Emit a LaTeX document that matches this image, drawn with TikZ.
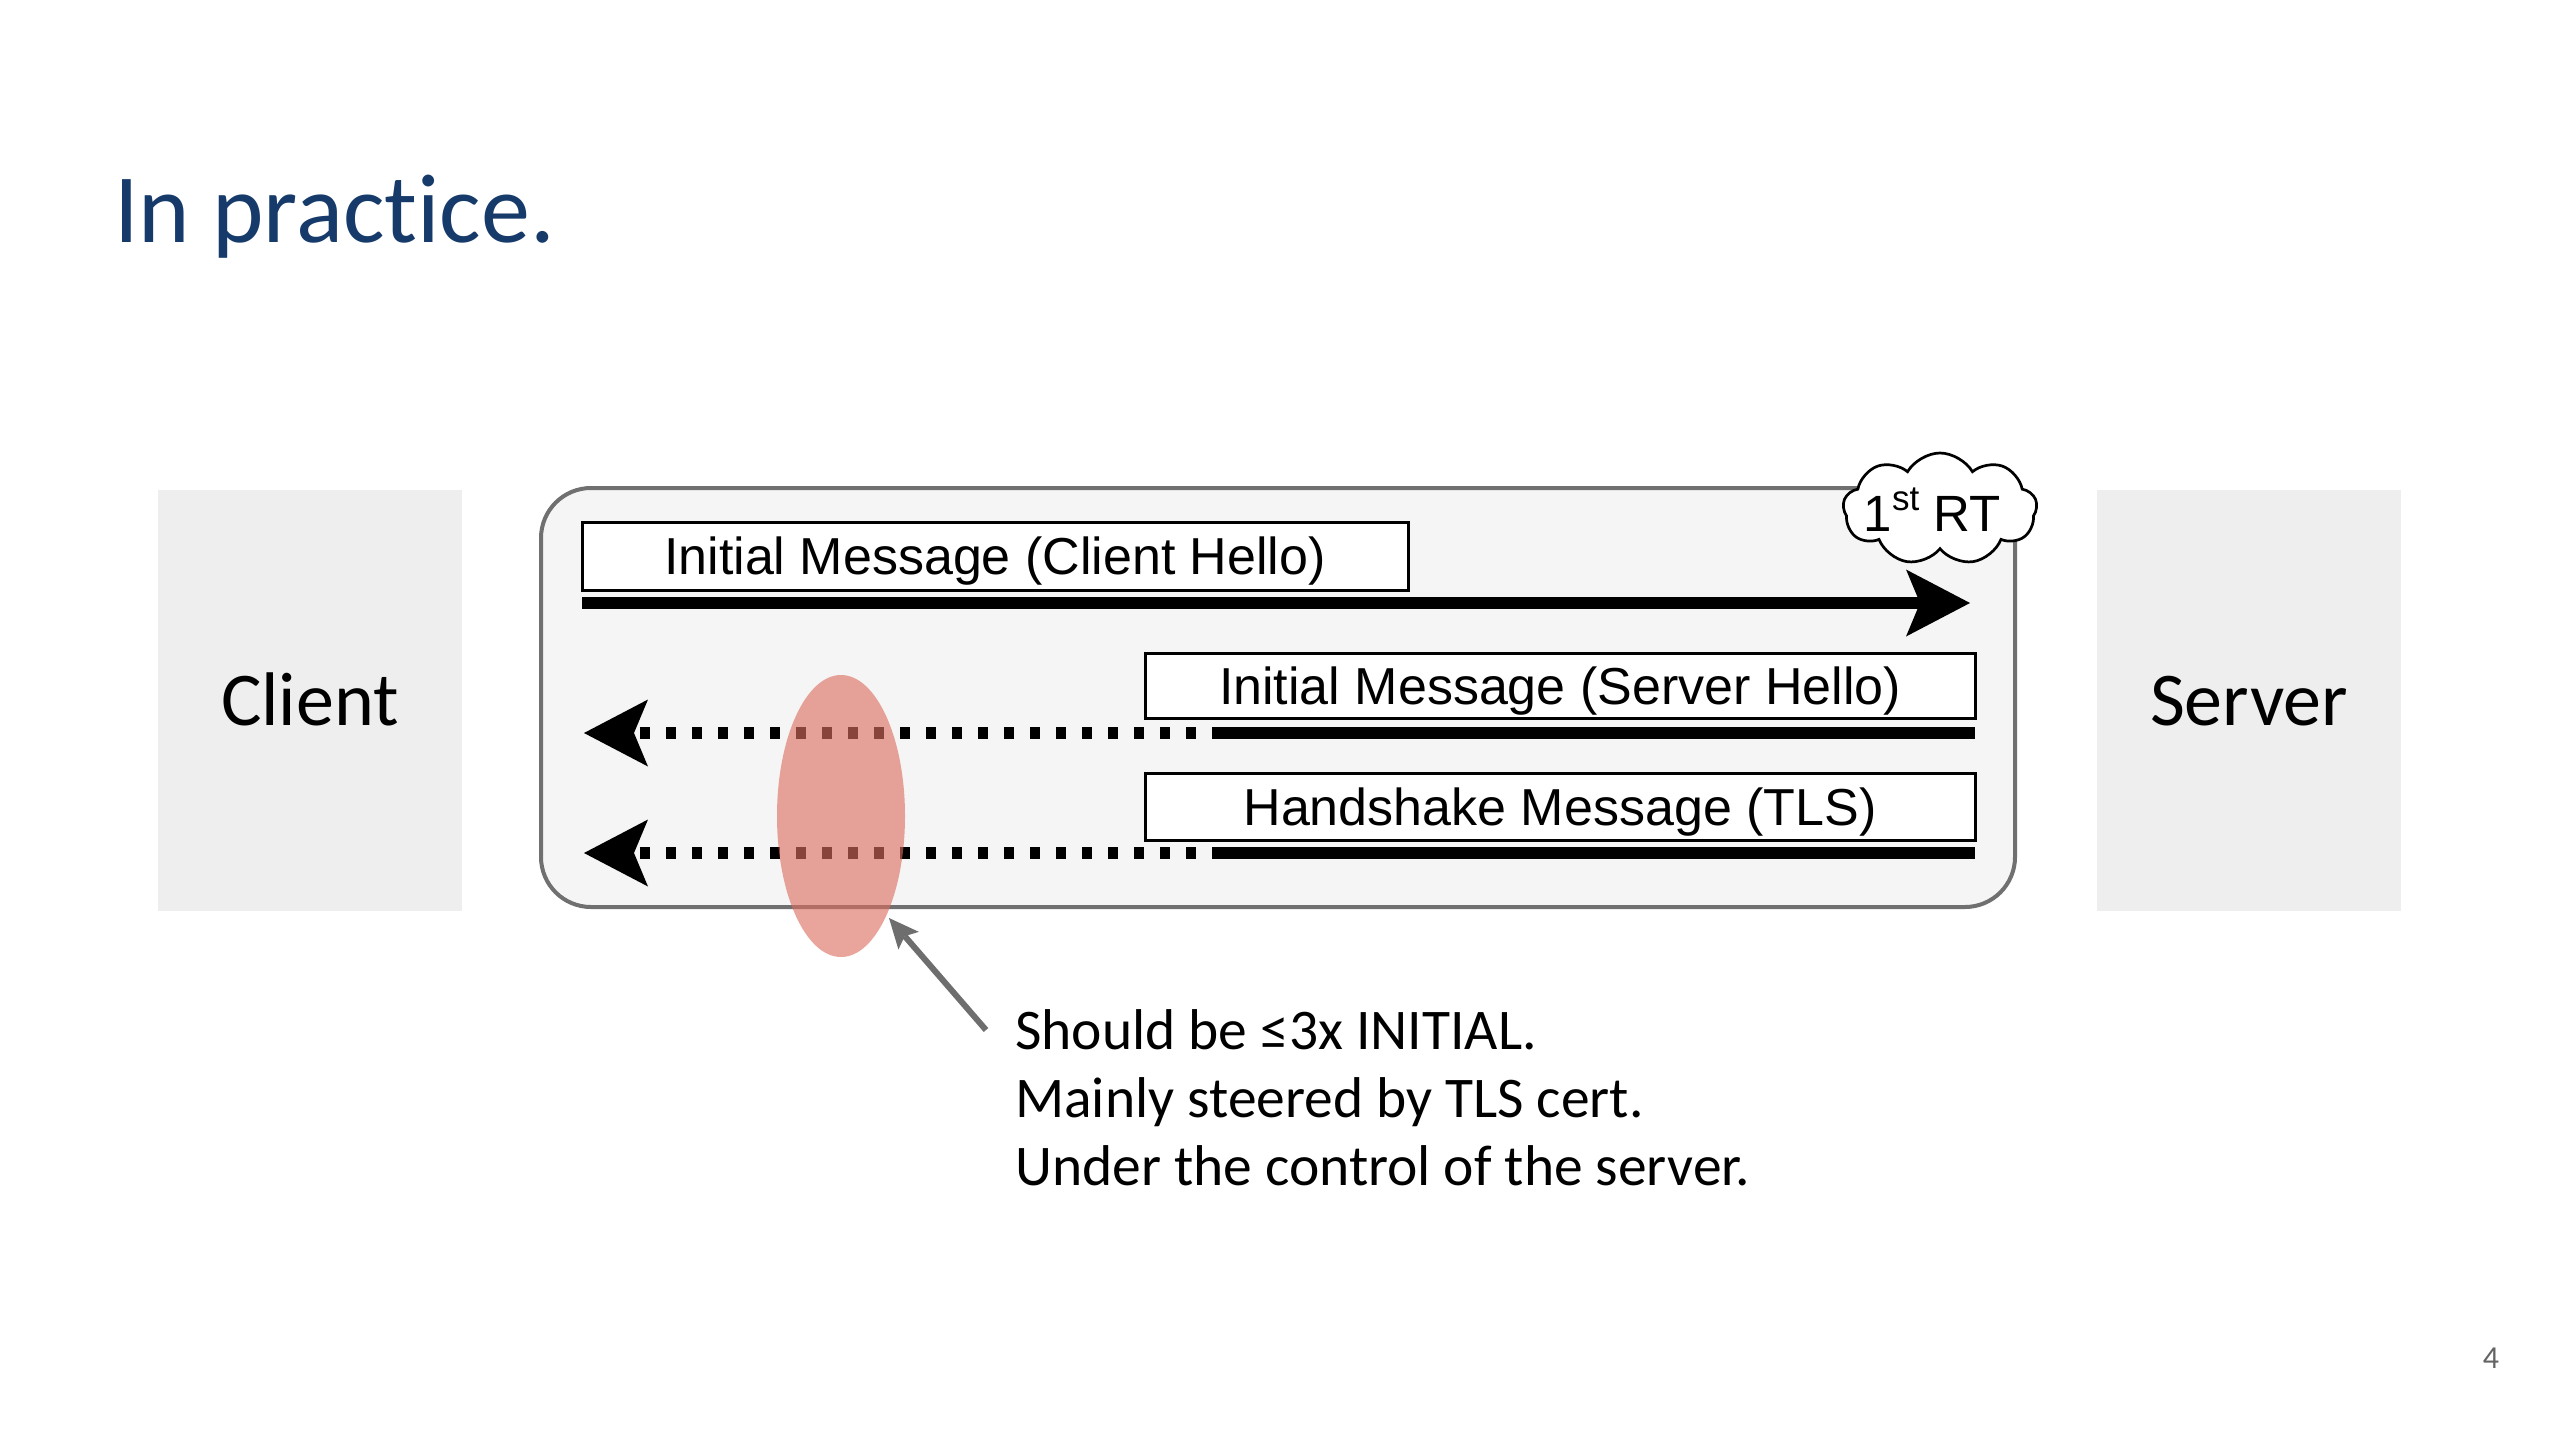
\documentclass[tikz,border=0pt]{standalone}
\usepackage{fontspec}
\setmainfont{Carlito}[Ligatures=NoCommon]
\newfontfamily\arialf{Liberation Sans}
\usetikzlibrary{arrows.meta,shapes.symbols,shapes.geometric}
\definecolor{titleblue}{RGB}{22,58,105}
\definecolor{sidegray}{RGB}{238,238,238}
\definecolor{panelfill}{RGB}{245,245,245}
\definecolor{panelline}{RGB}{112,112,112}
\definecolor{hilite}{RGB}{220,110,95}
\definecolor{pointer}{RGB}{110,110,110}
\definecolor{pagegray}{RGB}{100,100,100}
\tikzset{
  sidebox/.style={fill=sidegray, draw=none, minimum width=304pt, minimum height=421pt, inner sep=0pt,
     text height=49pt, text depth=0pt, font=\fontsize{76}{90}\selectfont},
  msgbox/.style={draw=black, line width=3pt, fill=white, inner sep=0pt, text height=37pt, text depth=0pt,
     font=\arialf\fontsize{52}{60}\selectfont},
  msgline/.style={line width=12pt, draw=black},
  dotline/.style={line width=12pt, draw=black, dash pattern=on 10pt off 16pt},
  bigtip/.style={-{Stealth[length=64pt,width=67pt,inset=14pt,line width=0pt]}},
  notetext/.style={anchor=base west, inner sep=0pt, font=\fontsize{57.5}{68}\selectfont},
}
\begin{document}
\begin{tikzpicture}[x=1pt,y=-1pt]
\useasboundingbox[fill=white] (0,0) rectangle (2560,1440);

% title
\node[anchor=base west, inner sep=0pt, text=titleblue, font=\fontsize{98}{110}\selectfont] (title) at (114,242) {In practice.};

% client / server
\node[sidebox] (client) at (310,700.5) {Client};
\node[sidebox] (server) at (2249,700.5) {Server};

% panel
\node[draw=panelline, fill=panelfill, line width=4pt, rounded corners=50pt,
      minimum width=1474pt, minimum height=419pt, inner sep=0pt] (panel) at (1278,697.5) {};

% message boxes
\node[msgbox, minimum width=826pt, minimum height=68pt] (ch) at (995,556) {Initial Message (Client Hello)};
\node[msgbox, minimum width=830pt, minimum height=65pt] (sh) at (1560,685.5) {Initial Message (Server Hello)};
\node[msgbox, minimum width=830pt, minimum height=67pt] (hs) at (1560,806.5) {Handshake Message (TLS)};

% arrow coordinates
\coordinate (a1s) at (582,603);
\coordinate (a1e) at (1970,603);
\coordinate (a2s) at (1975,733);
\coordinate (a2m) at (1222,733);
\coordinate (a2e) at (584,733);
\coordinate (a3s) at (1975,853);
\coordinate (a3m) at (1222,853);
\coordinate (a3e) at (584,853);

\draw[msgline, bigtip] (a1s) -- (a1e);
\draw[msgline] (a2s) -- (a2m);
\draw[dotline, bigtip] (a2m) -- (a2e);
\draw[msgline] (a3s) -- (a3m);
\draw[dotline, bigtip] (a3m) -- (a3e);

% cloud
\node[cloud, cloud puffs=9, cloud puff arc=120, aspect=1.75, draw=black, line width=2.7pt, fill=white,
      minimum width=194pt, minimum height=112pt, inner sep=0pt] (rt) at (1940,509) {};
\node[anchor=base, inner sep=0pt, font=\arialf\fontsize{51}{55}\selectfont] (rtlabel) at (1932,531)
  {1\raisebox{21pt}{\fontsize{35}{35}\selectfont st}\hspace{14pt}RT};

% highlight ellipse
\node[ellipse, fill=hilite, fill opacity=0.62, draw=none, minimum width=128pt, minimum height=282pt, inner sep=0pt] (hl) at (841,816) {};

% pointer arrow
\coordinate (ptail) at (986,1030);
\coordinate (ptip) at (889,918);
\draw[pointer, line width=6pt, -{Stealth[length=30pt,width=27pt,inset=6pt,line width=0pt]}] (ptail) -- (ptip);

% note
\node[notetext] (n1) at (1015,1049) {Should be ≤3x INITIAL.};
\node[notetext] (n2) at (1015,1117) {Mainly steered by TLS cert.};
\node[notetext] (n3) at (1015,1185) {Under the control of the server.};

% page number
\node[anchor=base, inner sep=0pt, text=pagegray, font=\fontsize{32}{36}\selectfont] (pg) at (2491,1368) {4};
\end{tikzpicture}
\end{document}
